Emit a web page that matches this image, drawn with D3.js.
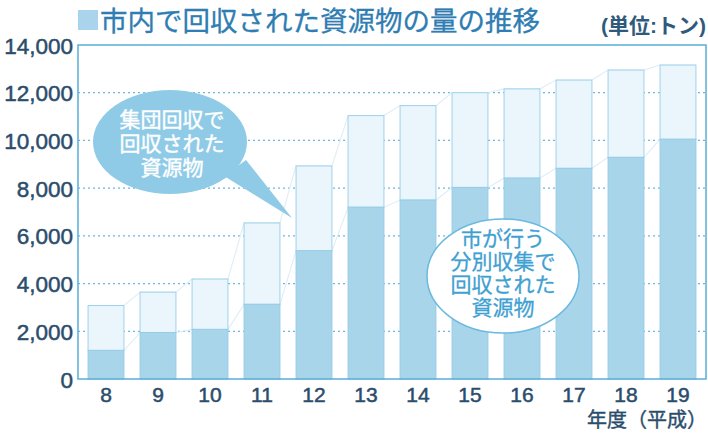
<!DOCTYPE html>
<html>
<head>
<meta charset="utf-8">
<script src="https://cdn.jsdelivr.net/npm/d3@7"></script>
<style>
  body { margin: 0; background: #fff; }
  svg text { font-family: "Liberation Sans", "Noto Sans CJK JP", sans-serif; }
</style>
</head>
<body>
<svg id="chart" width="708" height="433"></svg>
<script>
// ----- DATA -----
var years = ["8", "9", "10", "11", "12", "13", "14", "15", "16", "17", "18", "19"];
// 市が行う分別収集で回収された資源物 (lower, dark)
var cityValues = [1200, 1950, 2080, 3130, 5380, 7200, 7500, 8030, 8420, 8830, 9290, 10050];
// 合計 (top of the light bar = 分別収集 + 集団回収)
var totalValues = [3080, 3640, 4190, 6540, 8930, 11040, 11460, 12000, 12160, 12530, 12950, 13160];
var yTicks = [0, 2000, 4000, 6000, 8000, 10000, 12000, 14000];

var svg = d3.select("#chart");
// note: "top" is a reserved window property, so use plot* names
var plotLeft = 78, plotRight = 706, plotTop = 45, plotBottom = 379;
var textColor = "#2b4d6c";

var x = d3.scaleBand()
    .domain(years)
    .range([80, 704])
    .paddingInner(0.31)
    .paddingOuter(0.155);

var y = d3.scaleLinear()
    .domain([0, 14000])
    .range([plotBottom, plotTop]);

var fmt = d3.format(",");

// ----- TITLE -----
svg.append("rect")
    .attr("x", 78).attr("y", 10).attr("width", 20).attr("height", 20)
    .style("fill", "#a9d4ec");
svg.append("text")
    .attr("x", 100).attr("y", 31)
    .style("font-size", "27.5px")
    .style("fill", "#2f7db2")
    .style("stroke", "#2f7db2")
    .style("stroke-width", 0.3)
    .text("市内で回収された資源物の量の推移");
svg.append("text")
    .attr("x", 706).attr("y", 33)
    .attr("text-anchor", "end")
    .style("font-size", "21px")
    .style("font-weight", "bold")
    .style("fill", "#2f5a7c")
    .text("(単位:トン)");

// ----- GRID -----
svg.append("g")
    .selectAll("line")
    .data(yTicks.filter(function(d) { return d > 0 && d < 14000; }))
    .enter().append("line")
    .attr("x1", plotLeft).attr("x2", plotRight)
    .attr("y1", function(d) { return y(d); })
    .attr("y2", function(d) { return y(d); })
    .attr("stroke", "#6db6dd")
    .attr("stroke-width", 1.2)
    .attr("stroke-dasharray", "2,3");

// ----- CONNECTING LINES -----
function connector(values) {
    var pts = [];
    years.forEach(function(yr, i) {
        pts.push([x(yr), y(values[i])]);
        pts.push([x(yr) + x.bandwidth(), y(values[i])]);
    });
    return d3.line()(pts);
}
svg.append("path")
    .attr("d", connector(totalValues))
    .attr("fill", "none")
    .attr("stroke", "#e0eff7")
    .attr("stroke-width", 1.2);
svg.append("path")
    .attr("d", connector(cityValues))
    .attr("fill", "none")
    .attr("stroke", "#e0eff7")
    .attr("stroke-width", 1.2);

// ----- BARS -----
svg.append("g")
    .selectAll("rect")
    .data(years)
    .enter().append("rect")
    .attr("x", function(d) { return x(d); })
    .attr("width", x.bandwidth())
    .attr("y", function(d, i) { return y(totalValues[i]); })
    .attr("height", function(d, i) { return y(cityValues[i]) - y(totalValues[i]); })
    .style("fill", "#eaf6fc")
    .attr("stroke", "#9fd2eb")
    .attr("stroke-width", 1);

svg.append("g")
    .selectAll("rect")
    .data(years)
    .enter().append("rect")
    .attr("x", function(d) { return x(d); })
    .attr("width", x.bandwidth())
    .attr("y", function(d, i) { return y(cityValues[i]); })
    .attr("height", function(d, i) { return plotBottom - y(cityValues[i]); })
    .style("fill", "#a9d5eb")
    .attr("stroke", "#97cde8")
    .attr("stroke-width", 1);

// ----- FRAME -----
svg.append("rect")
    .attr("x", plotLeft).attr("y", plotTop)
    .attr("width", plotRight - plotLeft).attr("height", plotBottom - plotTop)
    .attr("fill", "none")
    .attr("stroke", "#5aaed8")
    .attr("stroke-width", 1.5);

// ----- AXES -----
var yAxis = svg.append("g")
    .attr("transform", "translate(" + plotLeft + ",0)")
    .call(d3.axisLeft(y).tickValues(yTicks).tickFormat(fmt).tickSize(0).tickPadding(5));
yAxis.select(".domain").remove();
yAxis.selectAll("text")
    .style("font-size", "22.5px")
    .style("fill", textColor)
    .style("stroke", textColor)
    .style("stroke-width", 0.5)
    .attr("dy", "0.36em");

var xAxis = svg.append("g")
    .attr("transform", "translate(0," + plotBottom + ")")
    .call(d3.axisBottom(x).tickSize(0).tickPadding(8));
xAxis.select(".domain").remove();
xAxis.selectAll("text")
    .style("font-size", "21px")
    .style("fill", textColor)
    .style("stroke", textColor)
    .style("stroke-width", 0.5);

svg.append("text")
    .attr("x", 707).attr("y", 427)
    .attr("text-anchor", "end")
    .style("font-size", "20px")
    .style("fill", textColor)
    .style("stroke", textColor)
    .style("stroke-width", 0.4)
    .text("年度（平成）");

// ----- CALLOUT: 集団回収 -----
var c1 = svg.append("g");
c1.append("path")
    .attr("d", "M 224 176 L 292 218 L 246 160 Z")
    .style("fill", "#8fcbe7");
c1.append("ellipse")
    .attr("cx", 170).attr("cy", 142).attr("rx", 77).attr("ry", 52)
    .style("fill", "#8fcbe7");
c1.selectAll("text")
    .data(["集団回収で", "回収された", "資源物"])
    .enter().append("text")
    .attr("x", 172)
    .attr("y", function(d, i) { return 127 + i * 24; })
    .attr("text-anchor", "middle")
    .style("font-size", "21px")
    .style("fill", "#ffffff")
    .style("stroke", "#ffffff")
    .style("stroke-width", 0.4)
    .text(function(d) { return d; });

// ----- CALLOUT: 分別収集 -----
var c2 = svg.append("g");
c2.append("ellipse")
    .attr("cx", 503).attr("cy", 276).attr("rx", 76).attr("ry", 57)
    .style("fill", "#ffffff")
    .attr("stroke", "#6ab9df")
    .attr("stroke-width", 1.5);
c2.selectAll("text")
    .data(["市が行う", "分別収集で", "回収された", "資源物"])
    .enter().append("text")
    .attr("x", 503)
    .attr("y", function(d, i) { return 246 + i * 23; })
    .attr("text-anchor", "middle")
    .style("font-size", "21px")
    .style("fill", "#3fa0d2")
    .style("stroke", "#3fa0d2")
    .style("stroke-width", 0.3)
    .text(function(d) { return d; });
</script>
</body>
</html>
